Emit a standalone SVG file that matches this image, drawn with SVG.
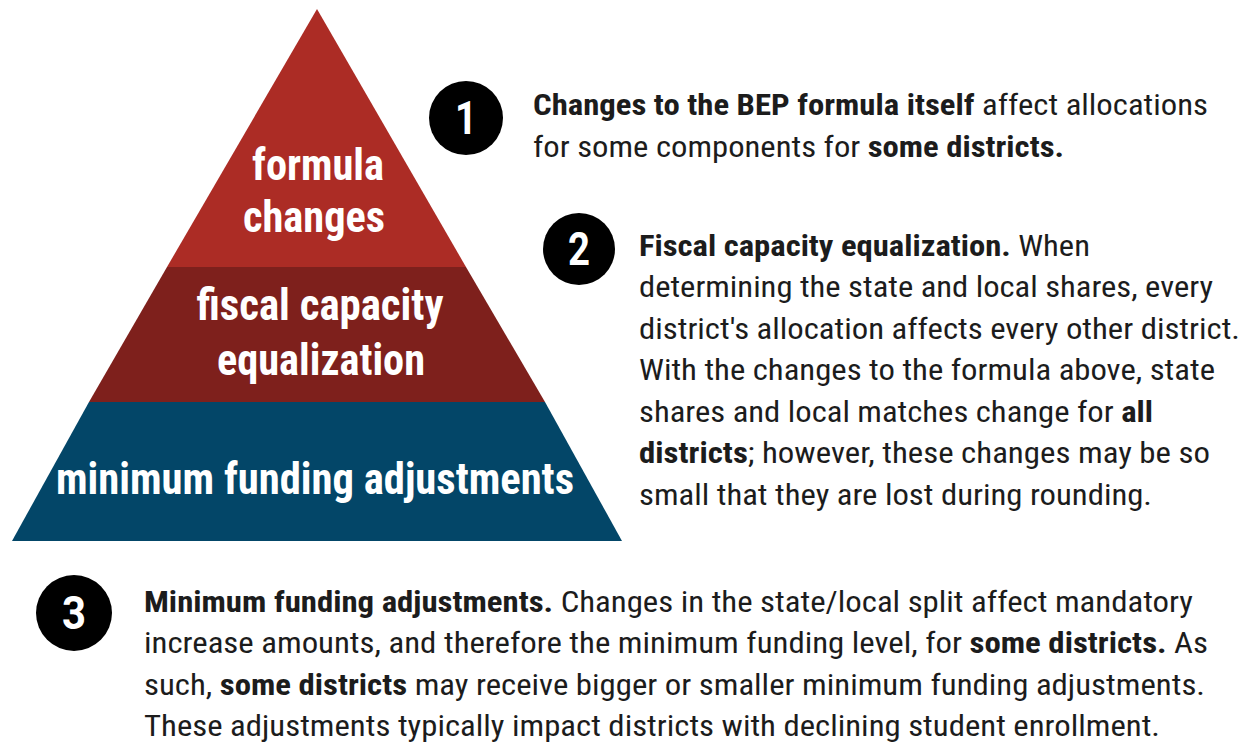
<svg xmlns="http://www.w3.org/2000/svg" width="1250" height="743" viewBox="0 0 1250 743">
  <style>
    .tier { font-family: "Roboto Condensed", Roboto, "Liberation Sans", sans-serif; font-weight: 700; font-size: 44px; fill: #ffffff; text-anchor: middle; }
    .badge circle { fill: #000000; }
    .badge text { font-family: Roboto, "Liberation Sans", sans-serif; font-weight: 700; font-size: 46px; fill: #ffffff; text-anchor: middle; }
    .body { font-family: "Roboto Condensed", Roboto, "Liberation Sans", sans-serif; font-size: 30px; fill: #1c1c1c; }
    .b { font-weight: 700; }
  </style>
  <rect width="1250" height="743" fill="#ffffff"/>

  <!-- pyramid tiers -->
  <g id="tier-formula">
    <polygon points="317,9 167,267 466,267" fill="#ac2c25"/>
    <text class="tier" x="318" y="180" textLength="132" lengthAdjust="spacingAndGlyphs">formula</text>
    <text class="tier" x="314" y="232" textLength="142" lengthAdjust="spacingAndGlyphs">changes</text>
  </g>
  <g id="tier-fiscal">
    <polygon points="167,267 466,267 545,402 89,402" fill="#7e201c"/>
    <text class="tier" x="320" y="320" textLength="247" lengthAdjust="spacingAndGlyphs">fiscal capacity</text>
    <text class="tier" x="321" y="375" textLength="208" lengthAdjust="spacingAndGlyphs">equalization</text>
  </g>
  <g id="tier-minimum">
    <polygon points="89,402 545,402 622,541 12,541" fill="#034668"/>
    <text class="tier" x="315" y="494" textLength="518" lengthAdjust="spacingAndGlyphs">minimum funding adjustments</text>
  </g>

  <!-- numbered notes -->
  <g id="note-1">
    <g class="badge">
      <circle cx="466" cy="118" r="37"/>
      <text x="466" y="134" textLength="22" lengthAdjust="spacingAndGlyphs">1</text>
    </g>
    <text class="body" x="533" y="115" textLength="675" lengthAdjust="spacingAndGlyphs"><tspan class="b">Changes to the BEP formula itself</tspan> affect allocations</text>
    <text class="body" x="533" y="157" textLength="531" lengthAdjust="spacingAndGlyphs">for some components for <tspan class="b">some districts.</tspan></text>
  </g>

  <g id="note-2">
    <g class="badge">
      <circle cx="579" cy="249" r="36"/>
      <text x="579" y="265" textLength="22" lengthAdjust="spacingAndGlyphs">2</text>
    </g>
    <text class="body" x="639" y="256" textLength="451" lengthAdjust="spacingAndGlyphs"><tspan class="b">Fiscal capacity equalization.</tspan> When</text>
    <text class="body" x="639" y="297" textLength="574" lengthAdjust="spacingAndGlyphs">determining the state and local shares, every</text>
    <text class="body" x="639" y="339" textLength="601" lengthAdjust="spacingAndGlyphs">district's allocation affects every other district.</text>
    <text class="body" x="639" y="380" textLength="576" lengthAdjust="spacingAndGlyphs">With the changes to the formula above, state</text>
    <text class="body" x="639" y="422" textLength="514" lengthAdjust="spacingAndGlyphs">shares and local matches change for <tspan class="b">all</tspan></text>
    <text class="body" x="639" y="463" textLength="571" lengthAdjust="spacingAndGlyphs"><tspan class="b">districts</tspan>; however, these changes may be so</text>
    <text class="body" x="639" y="505" textLength="513" lengthAdjust="spacingAndGlyphs">small that they are lost during rounding.</text>
  </g>

  <g id="note-3">
    <g class="badge">
      <circle cx="74" cy="613" r="38"/>
      <text x="74" y="629" textLength="24" lengthAdjust="spacingAndGlyphs">3</text>
    </g>
    <text class="body" x="144" y="612" textLength="1049" lengthAdjust="spacingAndGlyphs"><tspan class="b">Minimum funding adjustments.</tspan> Changes in the state/local split affect mandatory</text>
    <text class="body" x="144" y="653" textLength="1064" lengthAdjust="spacingAndGlyphs">increase amounts, and therefore the minimum funding level, for <tspan class="b">some districts.</tspan> As</text>
    <text class="body" x="144" y="695" textLength="1061" lengthAdjust="spacingAndGlyphs">such, <tspan class="b">some districts</tspan> may receive bigger or smaller minimum funding adjustments.</text>
    <text class="body" x="144" y="736" textLength="1016" lengthAdjust="spacingAndGlyphs">These adjustments typically impact districts with declining student enrollment.</text>
  </g>
</svg>
